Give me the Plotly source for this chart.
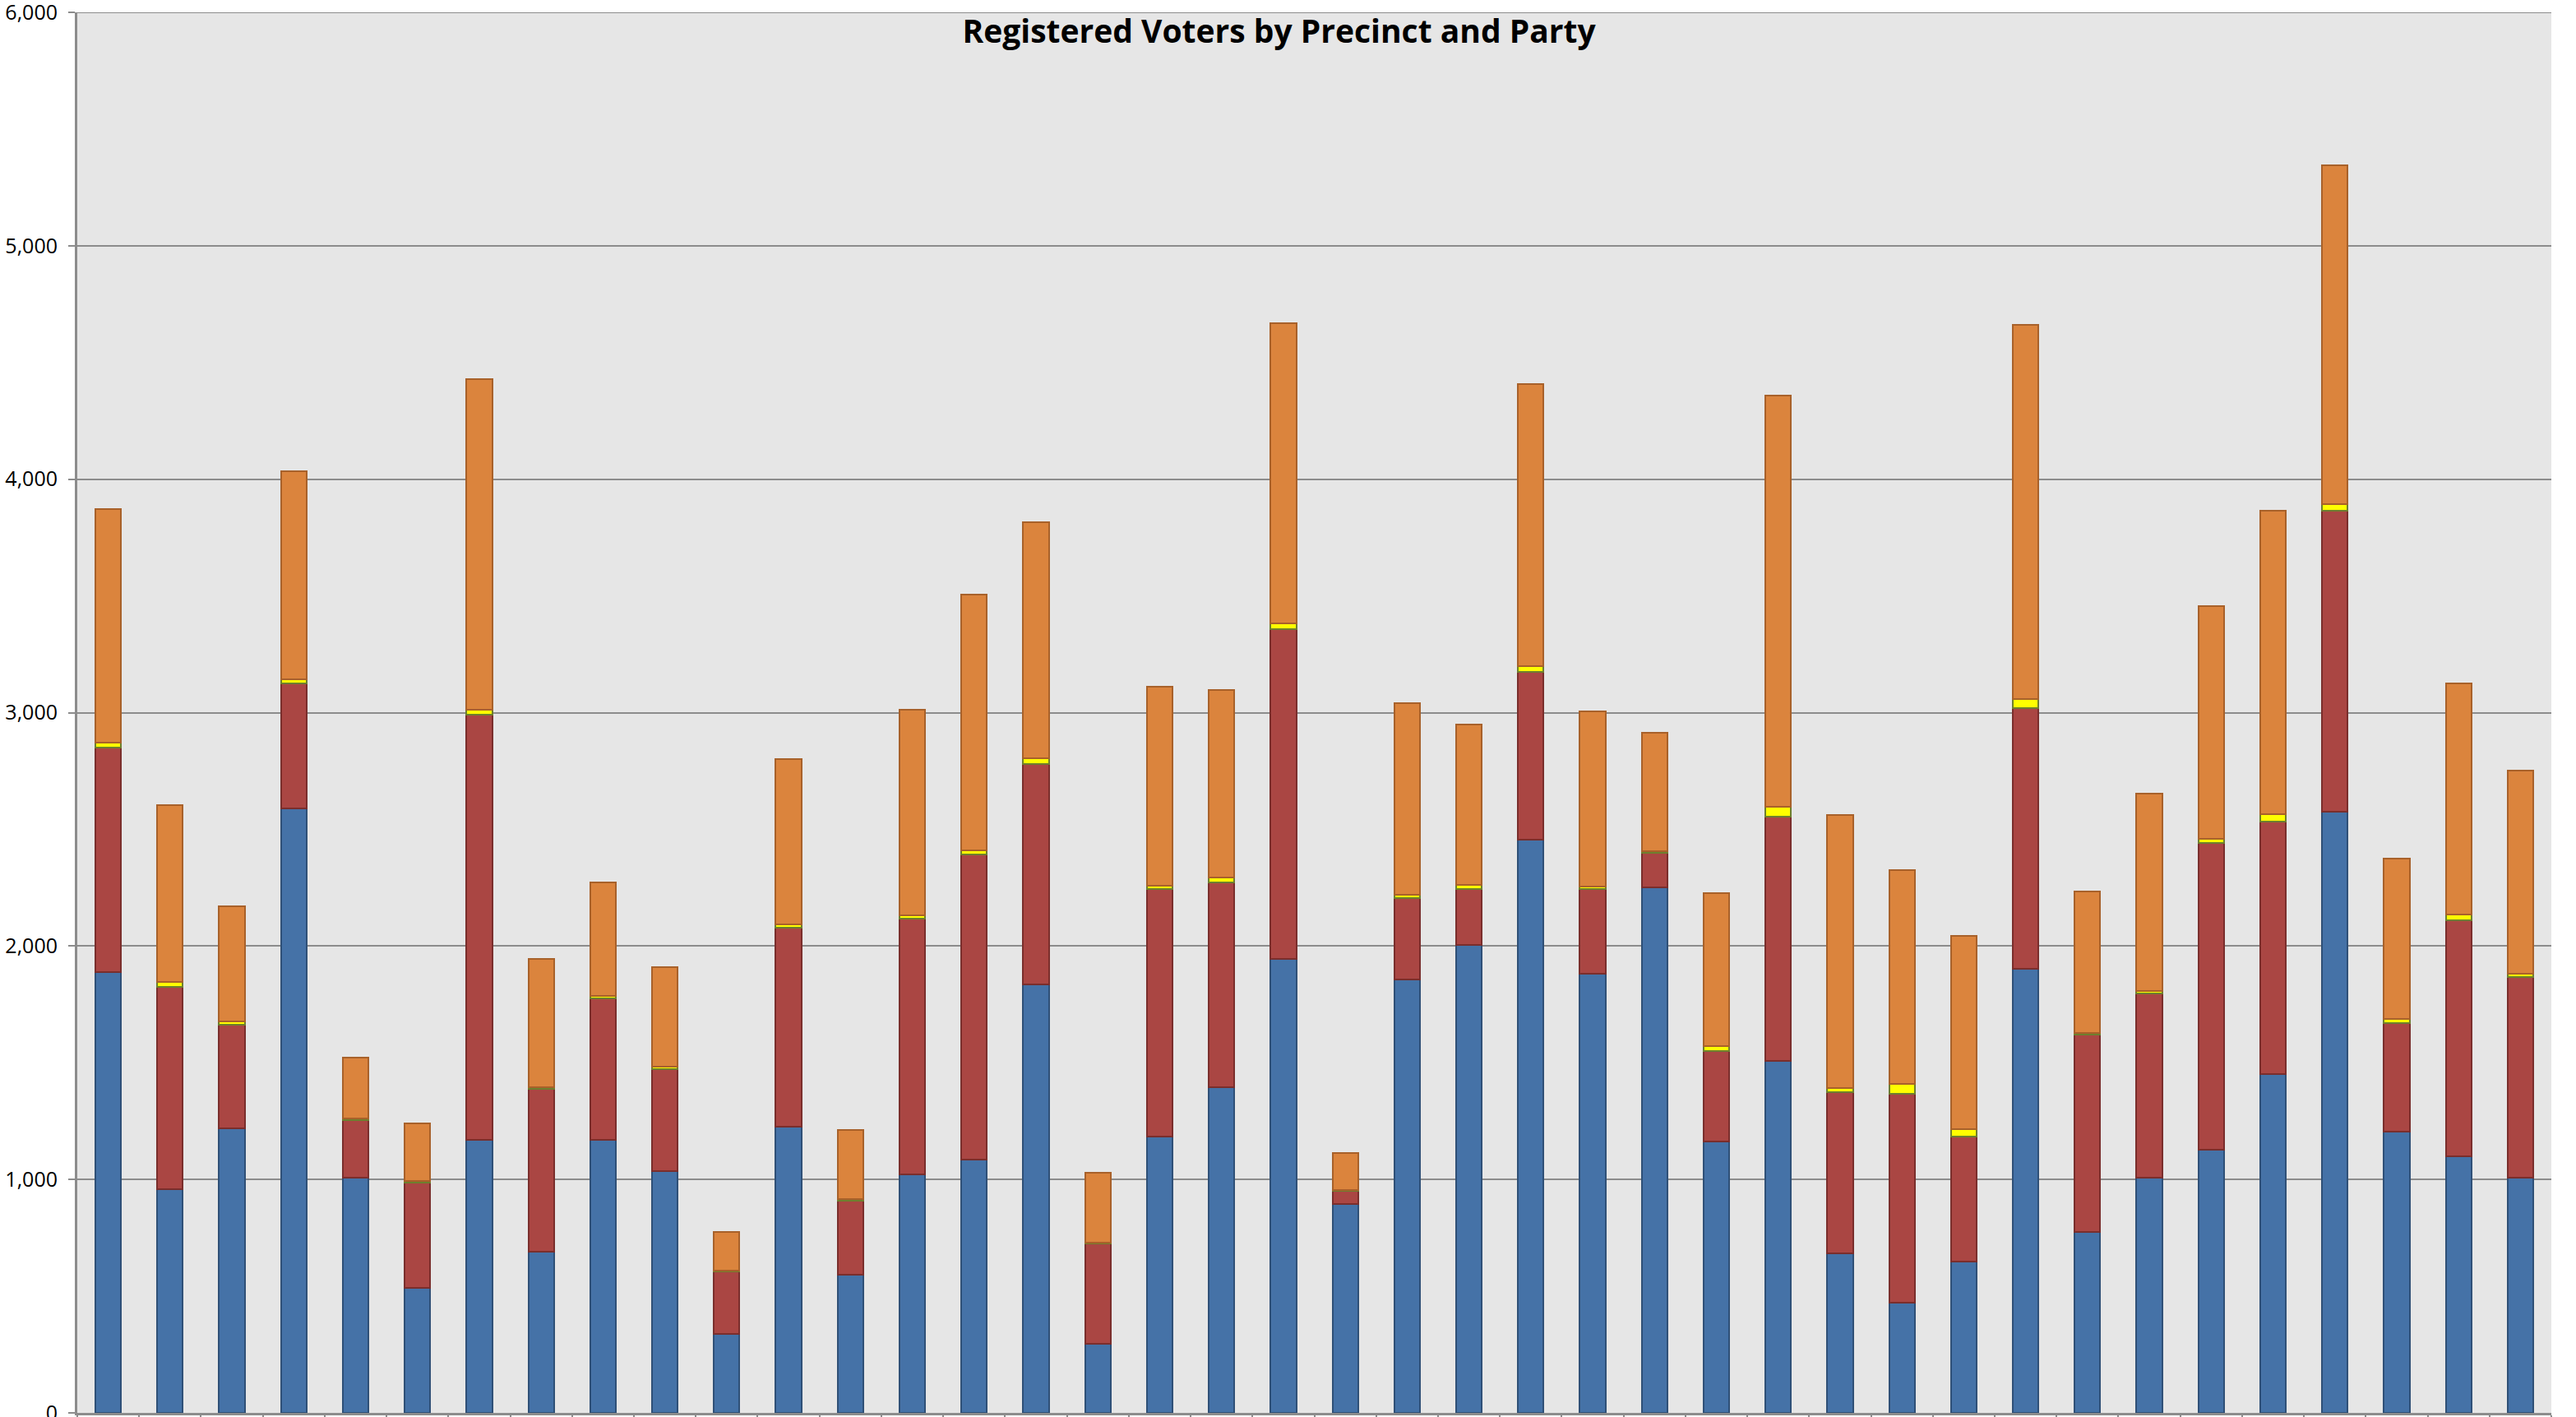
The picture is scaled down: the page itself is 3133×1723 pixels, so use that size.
import plotly.graph_objects as go

precincts = [f"Precinct {i}" for i in range(1, 41)]

democrat = [1890, 959, 1220, 2588, 1008, 536, 1171, 691, 1171, 1037,
            339, 1227, 592, 1023, 1086, 1834, 296, 1185, 1396, 1946,
            896, 1855, 2003, 2454, 1883, 2250, 1164, 1509, 684, 472,
            649, 1904, 776, 1008, 1128, 1453, 2574, 1206, 1100, 1008]
republican = [959, 867, 444, 536, 247, 451, 1819, 698, 606, 437,
              267, 853, 318, 1093, 1305, 945, 430, 1058, 875, 1411,
              56, 352, 240, 719, 360, 148, 387, 1044, 691, 896,
              536, 1114, 846, 790, 1312, 1079, 1291, 465, 1009, 861]
libertarian = [23, 19, 12, 20, 7, 6, 22, 7, 10, 9,
               4, 13, 5, 17, 19, 26, 4, 15, 22, 24,
               3, 12, 19, 27, 13, 10, 22, 42, 17, 42,
               30, 40, 6, 10, 18, 33, 28, 17, 27, 13]
unaffiliated = [1000, 757, 496, 890, 261, 248, 1417, 550, 484, 428,
                166, 707, 298, 878, 1095, 1010, 300, 852, 803, 1288,
                159, 820, 686, 1208, 748, 505, 655, 1763, 1168, 917,
                830, 1604, 607, 844, 997, 1300, 1453, 688, 988, 868]

y_ticks = [0, 1000, 2000, 3000, 4000, 5000, 6000]
y_tick_labels = ["0", "1,000", "2,000", "3,000", "4,000", "5,000", "6,000"]

series = [
    ("Democrat", democrat, "#4572A7", "#2F5077"),
    ("Republican", republican, "#AA4643", "#7A2E2C"),
    ("Libertarian", libertarian, "#FFFF00", "#6E7F2E"),
    ("Unaffiliated", unaffiliated, "#DB843D", "#A8612A"),
]

fig = go.Figure()
for name, vals, fill, line in series:
    fig.add_trace(go.Bar(
        x=precincts, y=vals, name=name,
        marker=dict(color=fill, line=dict(color=line, width=2)),
    ))

fig.update_layout(
    barmode="stack",
    bargap=0.585,
    width=3133, height=1723,
    margin=dict(l=94, r=30, t=15, b=5, autoexpand=False),
    paper_bgcolor="white",
    plot_bgcolor="#E6E6E6",
    showlegend=False,
    title=dict(
        text="<b>Registered Voters by Precinct and Party</b>",
        x=0.4965, xanchor="center", xref="container",
        y=1 - 38 / 1723, yanchor="middle", yref="container",
        font=dict(family="Open Sans", size=39, color="black"),
    ),
    font=dict(family="Open Sans", color="black"),
)
fig.update_yaxes(
    range=[0, 6000],
    automargin=False,
    tickvals=y_ticks, ticktext=y_tick_labels,
    showgrid=True, gridcolor="#8C8C8C", gridwidth=2,
    showline=True, linecolor="#8C8C8C", linewidth=3,
    ticks="outside", ticklen=8, tickcolor="#8C8C8C", tickwidth=2,
    ticklabelstandoff=8,
    ticklabeloverflow="allow",
    tickfont=dict(family="Open Sans", size=25, color="black"),
    zeroline=False,
)
fig.update_xaxes(
    automargin=False,
    showticklabels=False,
    showline=True, linecolor="#8C8C8C", linewidth=3,
    ticks="outside", ticklen=6, tickcolor="#8C8C8C", tickwidth=2,
    tickson="boundaries",
    showgrid=False,
)
fig.add_shape(type="line", xref="paper", yref="y", x0=0, x1=1, y0=6000, y1=6000,
              line=dict(color="#8C8C8C", width=2), layer="below")

fig.write_html(
    "out.html",
    config={"displayModeBar": False},
    post_script="document.body.style.margin='0';document.body.style.overflow='hidden';",
)
